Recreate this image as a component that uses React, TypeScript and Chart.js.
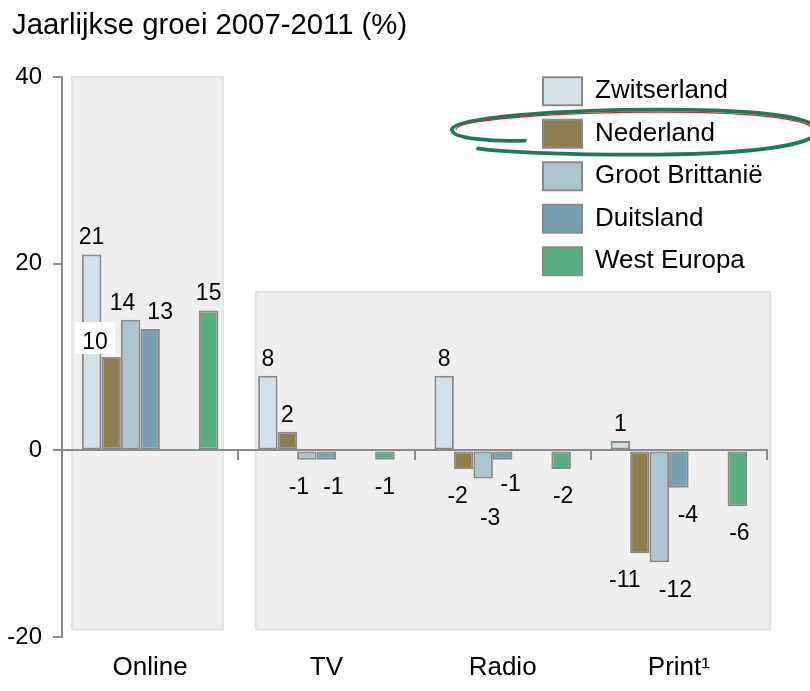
import React, { useEffect, useRef } from 'react';
import { Chart, registerables } from 'chart.js';

Chart.register(...registerables);

// ---------- data ----------
const TITLE = 'Jaarlijkse groei 2007-2011 (%)';
const CATEGORIES = ['Online', 'TV', 'Radio', 'Print¹'];
const SERIES_NAMES = ['Zwitserland', 'Nederland', 'Groot Brittanië', 'Duitsland', 'West Europa'];
const ZWITSERLAND = [21, 8, 8, 1];
const NEDERLAND = [10, 2, -2, -11];
const GROOT_BRITTANNIE = [14, -1, -3, -12];
const DUITSLAND = [13, -1, -1, -4];
const WEST_EUROPA = [15, -1, -2, -6];
const Y_MIN = -20;
const Y_MAX = 40;
const Y_STEP = 20;

// ---------- styles ----------
const FONT = '"Liberation Sans", Arial, Helvetica, sans-serif';
const COLORS = ['#d4e0e6', '#8c7e50', '#adc5cf', '#77a0b2', '#5aad80'];
const BAR_BORDER = '#8a8a8a';
const AXIS_COLOR = '#8a8a8a';
const LEGEND_PAD = 14.5;
const LEGEND_BOX_H = 28;
const TITLE_LEFT = 12;

// label nudges (dx, dy) in px, keyed "series|category"
const LABEL_NUDGE: Record<string, [number, number]> = {
  'Nederland|Online': [-16, 2],
  'Groot Brittanië|Online': [-8, 0],
  'Duitsland|Online': [10, 0],
  'Groot Brittanië|TV': [-8, 0],
  'Duitsland|TV': [7, 0],
  'Nederland|Radio': [-6, 0],
  'Groot Brittanië|Radio': [7, 13],
  'Duitsland|Radio': [8, -3],
  'West Europa|Radio': [2, 0],
  'Nederland|Print¹': [-15, 0],
  'Groot Brittanië|Print¹': [16, 1],
  'Duitsland|Print¹': [9, 0],
  'West Europa|Print¹': [2, 0],
};
const LABEL_BOXED = ['Nederland|Online'];

const SERIES_VALUES = [ZWITSERLAND, NEDERLAND, GROOT_BRITTANNIE, DUITSLAND, WEST_EUROPA];

function barDataset(label: string, data: (number | null)[], color: string) {
  return {
    label,
    data,
    backgroundColor: color,
    borderColor: BAR_BORDER,
    borderWidth: 2,
    borderSkipped: false as const,
    categoryPercentage: 0.7745,
    barPercentage: 1,
  };
}

const panelPlugin = {
  id: 'panels',
  beforeDraw(chart: any) {
    const { ctx } = chart;
    const x = chart.scales.x;
    const y = chart.scales.y;
    const w = x.width / CATEGORIES.length;
    const panels = [
      { from: 0.057, to: 0.913, top: 40 },
      { from: 1.1, to: 4.017, top: 17 },
    ];
    const bottom = y.getPixelForValue(-19.2);
    ctx.save();
    ctx.fillStyle = '#efefef';
    ctx.strokeStyle = '#e2e2e2';
    ctx.lineWidth = 2;
    panels.forEach((p) => {
      const l = x.left + p.from * w;
      const r = x.left + p.to * w;
      const t = y.getPixelForValue(p.top);
      ctx.fillRect(l, t, r - l, bottom - t);
      ctx.strokeRect(l, t, r - l, bottom - t);
    });
    ctx.restore();
  },
};

const placePlugin = {
  id: 'placeBoxes',
  afterLayout(chart: any) {
    const lg = chart.legend;
    const ca = chart.chartArea;
    if (lg) {
      lg.left = ca.right - 224 - LEGEND_PAD;
      lg.top = ca.top - LEGEND_PAD;
      lg.right = chart.width;
      lg.bottom = ca.bottom;
    }
    const tb = chart.titleBlock;
    if (tb) {
      const w = tb.right - tb.left;
      tb.left = TITLE_LEFT;
      tb.right = TITLE_LEFT + w;
    }
  },
};

const valueLabelPlugin = {
  id: 'valueLabels',
  afterDatasetsDraw(chart: any) {
    const ctx = chart.ctx;
    ctx.save();
    ctx.font = `23px ${FONT}`;
    ctx.textAlign = 'center';
    ctx.textBaseline = 'alphabetic';
    chart.data.datasets.forEach((ds: any, di: number) => {
      if (!ds.label) return;
      const meta = chart.getDatasetMeta(di);
      ds.data.forEach((v: number | null, i: number) => {
        if (v === null || v === undefined) return;
        const el = meta.data[i];
        const key = `${ds.label}|${CATEGORIES[i]}`;
        const [dx, dy] = LABEL_NUDGE[key] || [0, 0];
        const x = el.x + dx;
        const y = v >= 0 ? el.y - 10 + dy : el.y + 34 + dy;
        if (LABEL_BOXED.includes(key)) {
          ctx.fillStyle = '#ffffff';
          ctx.fillRect(x - 20, y - 27, 40, 32);
        }
        ctx.fillStyle = '#000000';
        ctx.fillText(String(v), x, y);
      });
    });
    ctx.restore();
  },
};

const ellipsePlugin = {
  id: 'highlightEllipse',
  afterDraw(chart: any) {
    const lg = chart.legend;
    if (!lg) return;
    const ax = lg.left + LEGEND_PAD;
    const ay = lg.top + LEGEND_PAD + (LEGEND_BOX_H + LEGEND_PAD) * 1 + LEGEND_BOX_H / 2;
    const ctx = chart.ctx;
    const P = (dx: number, dy: number): [number, number] => [ax + dx, ay + dy];
    ctx.save();
    ctx.lineCap = 'round';
    ctx.lineJoin = 'round';
    // green loop
    ctx.beginPath();
    ctx.moveTo(...P(-18, 7));
    ctx.bezierCurveTo(...P(-51, 8), ...P(-91, 5), ...P(-91, -4));
    ctx.bezierCurveTo(...P(-91, -16), ...P(17, -24), ...P(117, -24));
    ctx.bezierCurveTo(...P(227, -24), ...P(274, -15), ...P(274, -3));
    ctx.bezierCurveTo(...P(274, 13), ...P(197, 21), ...P(97, 21));
    ctx.bezierCurveTo(...P(17, 21), ...P(-43, 18), ...P(-65, 15));
    ctx.strokeStyle = '#1f7a58';
    ctx.lineWidth = 3.8;
    ctx.stroke();
    // red inner line
    ctx.beginPath();
    ctx.moveTo(...P(-87, -4));
    ctx.bezierCurveTo(...P(-87, -14), ...P(17, -21.5), ...P(117, -21.5));
    ctx.bezierCurveTo(...P(224, -21.5), ...P(270, -13), ...P(270, -3));
    ctx.strokeStyle = '#d0262b';
    ctx.lineWidth = 1.2;
    ctx.stroke();
    ctx.restore();
  },
};

export default function App() {
  const ref = useRef<HTMLCanvasElement>(null);

  useEffect(() => {
    if (!ref.current) return;
    const empty = CATEGORIES.map(() => null);
    const datasets = [
      barDataset(SERIES_NAMES[0], SERIES_VALUES[0], COLORS[0]),
      barDataset(SERIES_NAMES[1], SERIES_VALUES[1], COLORS[1]),
      barDataset(SERIES_NAMES[2], SERIES_VALUES[2], COLORS[2]),
      barDataset(SERIES_NAMES[3], SERIES_VALUES[3], COLORS[3]),
      barDataset('', empty, 'rgba(0,0,0,0)'),
      barDataset('', empty, 'rgba(0,0,0,0)'),
      barDataset(SERIES_NAMES[4], SERIES_VALUES[4], COLORS[4]),
    ];

    const chart = new Chart(ref.current, {
      type: 'bar',
      data: { labels: CATEGORIES, datasets: datasets as any },
      options: {
        responsive: false,
        devicePixelRatio: 1,
        animation: false,
        events: [],
        layout: { padding: { left: 0, right: 43, top: 0, bottom: 0 } },
        plugins: {
          title: {
            display: true,
            text: TITLE,
            align: 'start',
            color: '#000',
            font: { size: 29.3, family: FONT, weight: 'normal' as any },
            padding: { top: 8.6, bottom: 33.4 },
          },
          legend: {
            display: true,
            position: 'chartArea' as any,
            align: 'start',
            labels: {
              color: '#000',
              font: { size: 26, family: FONT },
              boxWidth: 39,
              boxHeight: LEGEND_BOX_H,
              padding: LEGEND_PAD,
              filter: (item: any) => item.text !== '',
            },
          },
          tooltip: { enabled: false },
        },
        scales: {
          x: {
            type: 'category',
            position: 'bottom',
            offset: true,
            grid: { display: false, drawTicks: false },
            border: { display: false },
            ticks: {
              color: '#000',
              font: { size: 26, family: FONT },
              padding: 15.4,
              maxRotation: 0,
              autoSkip: false,
            },
            afterFit: (s: any) => {
              s.height = 54;
            },
          },
          x2: {
            type: 'category',
            labels: CATEGORIES,
            position: { y: 0 } as any,
            offset: true,
            grid: {
              offset: true,
              drawOnChartArea: false,
              drawTicks: true,
              tickLength: 9,
              color: AXIS_COLOR,
              lineWidth: 2,
            },
            border: { display: true, color: AXIS_COLOR, width: 2 },
            ticks: { display: false },
          },
          y: {
            type: 'linear',
            min: Y_MIN,
            max: Y_MAX,
            ticks: {
              stepSize: Y_STEP,
              color: '#000',
              font: { size: 24, family: FONT },
              padding: 11,
            },
            grid: {
              drawOnChartArea: false,
              drawTicks: true,
              tickLength: 9,
              color: AXIS_COLOR,
              lineWidth: 2,
            },
            border: { display: true, color: AXIS_COLOR, width: 2 },
            afterFit: (s: any) => {
              s.width = 62;
            },
          },
        },
      },
      plugins: [panelPlugin, placePlugin, valueLabelPlugin, ellipsePlugin],
    } as any);

    return () => chart.destroy();
  }, []);

  return (
    <div
      style={{
        position: 'fixed',
        left: 0,
        top: 0,
        width: 810,
        height: 691,
        background: '#ffffff',
      }}
    >
      <canvas ref={ref} width={810} height={691} style={{ display: 'block' }} />
    </div>
  );
}
